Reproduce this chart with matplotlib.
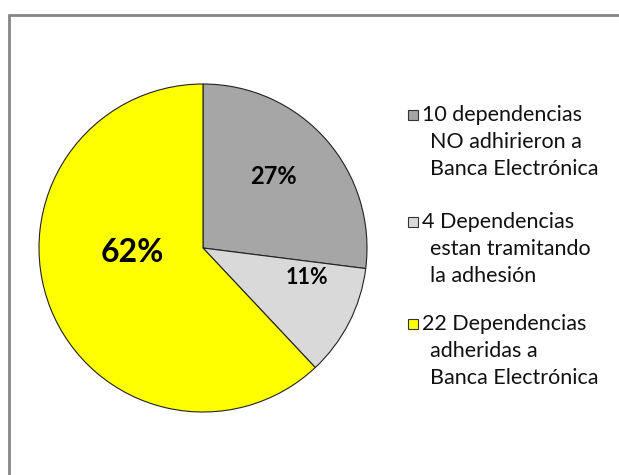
import matplotlib
matplotlib.use("Agg")
import matplotlib.pyplot as plt
from matplotlib.patches import Rectangle

# --- datos ---
etiquetas = [
    "10 dependencias\nNO adhirieron a\nBanca Electrónica",
    "4 Dependencias\nestan tramitando\nla adhesión",
    "22 Dependencias\nadheridas a\nBanca Electrónica",
]
porcentajes = [27, 11, 62]
colores = ["#A6A6A6", "#D9D9D9", "#FFFF00"]

# --- layout (en pixeles, y hacia abajo) ---
W, H = 619, 475
centro = (203, 248)
radio = 164
pos_pct = [(273, 176), (307, 278), (132, 252)]
tam_pct = [17, 15.5, 23]
leyenda_y = [115, 222, 324]
paso_linea = 27
leyenda_x_cuadro = 408
leyenda_x_texto = 430

plt.rcParams['font.family'] = ['Lato', 'DejaVu Sans']

fig = plt.figure(figsize=(W / 100, H / 100), dpi=100)
ax = fig.add_axes([0, 0, 1, 1])
ax.set_xlim(0, W)
ax.set_ylim(0, H)
ax.set_aspect('equal')
ax.axis('off')

def py(y):
    return H - y

# borde del grafico (se sale por derecha y abajo)
ax.add_patch(Rectangle((9, py(15) - 600), 700, 600, fill=False,
                       edgecolor="#868686", linewidth=2))

cunas, textos, auto = ax.pie(
    porcentajes, colors=colores, startangle=90, counterclock=False,
    center=(centro[0], py(centro[1])), radius=radio,
    autopct=lambda p: f"{p:.0f}%",
    wedgeprops=dict(edgecolor="#222222", linewidth=0.8),
)
ax.set_xlim(0, W)
ax.set_ylim(0, H)

for t, (x, y), s in zip(auto, pos_pct, tam_pct):
    t.set_position((x, py(y)))
    t.set_fontsize(s)
    t.set_fontweight('bold')
    t.set_color('black')
    t.set_ha('center')
    t.set_va('center')

# leyenda
for etiqueta, color, y0 in zip(etiquetas, colores, leyenda_y):
    ax.add_patch(Rectangle((leyenda_x_cuadro, py(y0) - 5), 10, 10,
                           facecolor=color, edgecolor="#333333", linewidth=0.8))
    for i, linea in enumerate(etiqueta.split("\n")):
        ax.text(leyenda_x_texto if i > 0 else leyenda_x_texto - 8, py(y0 + i * paso_linea),
                linea, fontsize=15.5, va='center', ha='left', color="#111111")

fig.savefig("out.png", dpi=100)
